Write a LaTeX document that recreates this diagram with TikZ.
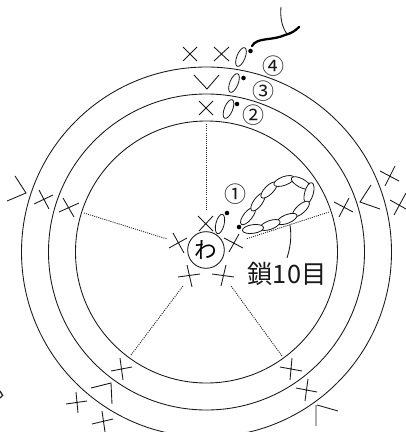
\documentclass[tikz,border=0pt]{standalone}
\usetikzlibrary{shapes.geometric}
\usepackage{fontspec}
\setmainfont{Noto Sans CJK JP}
\tikzset{
  ring/.style={draw=black!90,line width=0.65pt},
  spoke/.style={draw=black!85,line width=0.65pt,dash pattern=on 0.8pt off 0.8pt},
  stitch/.style={draw=black!90,line width=0.65pt},
  trloop/.style={draw=black!90,line width=0.6pt,ellipse,minimum width=6.2pt,minimum height=15pt,inner sep=0pt,rotate=-22},
  chainloop/.style={draw=black!90,line width=0.6pt,fill=white,ellipse,minimum width=16pt,minimum height=6.5pt,inner sep=0pt},
  dotmark/.style={fill=black,circle,inner sep=0pt,minimum size=3.4pt},
  lab/.style={inner sep=0pt,text=black!90},
  numlab/.style={lab,font=\fontsize{16.5pt}{17pt}\selectfont}
}
\begin{document}
\begin{tikzpicture}[x=0.75pt,y=-0.75pt]
\useasboundingbox (0,0) rectangle (406,432);
\begin{scope}
\clip (0,0) rectangle (406,432);
\coordinate (c) at (206.5,252);
\draw[ring] (c) circle[radius=185];
\draw[ring] (c) circle[radius=158];
\draw[ring] (c) circle[radius=131];
\end{scope}
% spokes
\coordinate (s1a) at (206,124); \coordinate (s1b) at (206,211);
\draw[spoke] (s1a) -- (s1b);
\coordinate (s2a) at (84,213); \coordinate (s2b) at (167,239);
\draw[spoke] (s2a) -- (s2b);
\coordinate (s3a) at (131,355); \coordinate (s3b) at (183,286);
\draw[spoke] (s3a) -- (s3b);
\coordinate (s4a) at (282,356); \coordinate (s4b) at (231,286);
\draw[spoke] (s4a) -- (s4b);
\coordinate (s5a) at (329,212); \coordinate (s5b) at (246,239);
\draw[spoke] (s5a) -- (s5b);
% ring centre
\node[draw=black!90,line width=0.65pt,circle,minimum size=27.5pt,inner sep=0pt,font=\fontsize{17pt}{17pt}\selectfont] (w) at (206,250) {わ};
% round 1 stitches around ring
\draw[stitch] (198,216)--(213,231) (213,216)--(199,231);
\draw[stitch] (173,233)--(184,253) (169,248)--(187,238);
\draw[stitch] (187,265)--(192,287) (178,277)--(200,274);
\draw[stitch] (226,265)--(221,286) (212,274)--(234,277);
\draw[stitch] (239,234)--(229,252) (224,238)--(243,248);
% chain
\foreach \n/\x/\y/\a in {1/248/216/51, 2/258/202/54, 3/269/190/45, 4/284/181/20, 5/301/183/-28, 6/309/193/75, 7/301/209/42, 8/287/219/22, 9/270/225/20, 10/253/229/8}{
  \node[chainloop,rotate=\a] (ch\n) at (\x,\y) {};
}
\coordinate (lead) at (290,225);
\coordinate (leadend) at (287,258);
\draw[stitch] (lead) .. controls (292,238) and (290,248) .. (leadend);
\node[lab,font=\fontsize{19pt}{20pt}\selectfont,anchor=center] (chainlabel) at (287,274) {鎖10目};
% first round tr + dot
\node[trloop,rotate=8] (o1) at (220,224) {};
\node[dotmark] (d1) at (227,213) {};
\node[dotmark] (d1b) at (239,227) {};
\node[numlab] (n1) at (235,194) {①};
% top
\draw[stitch] (199,101)--(213,115) (213,101)--(199,115);
\node[trloop] (o2) at (228.5,109) {};
\node[dotmark] (d2) at (237,104) {};
\node[numlab] (n2) at (253,115) {②};
\draw[stitch] (194,75)--(207,89)--(219,75);
\node[trloop] (o3) at (234,83) {};
\node[dotmark] (d3) at (243.5,78) {};
\node[numlab] (n3) at (263,91) {③};
\draw[stitch] (183,47)--(197,61) (197,47)--(183,61);
\draw[stitch] (214,47)--(229,61) (229,47)--(214,61);
\node[trloop] (o4) at (241,57) {};
\node[dotmark] (d4) at (250.5,51) {};
\node[numlab] (n4) at (273,66) {④};
\coordinate (yarn1) at (252,46); \coordinate (yarn2) at (299,27);
\draw[line width=1.7pt,line cap=round] (yarn1) .. controls (257,37) and (272,41) .. (285,35) .. controls (292,33) and (295,31) .. (yarn2);
\coordinate (y3) at (281,7); \coordinate (y4) at (287,34);
\draw[stitch] (y3) .. controls (280,18) and (282,27) .. (y4);
% left cluster
\draw[stitch] (15,176)--(26,193)--(7,201);
\draw[stitch] (39,190)--(49,209) (34,204)--(53,195);
\draw[stitch] (63,198)--(74,217) (59,212)--(79,203);
% right cluster
\draw[stitch] (334,202)--(353,212) (339,217)--(349,198);
\draw[stitch] (371,185)--(360,202)--(380,209);
\draw[stitch] (380,171)--(399,181) (395,166)--(385,186);
\draw[stitch] (390,200)--(406,209) (406,193)--(394,215);
% lower left
\draw[stitch] (120,358)--(123,380) (111,371)--(132,367);
\draw[stitch] (91,388)--(111,383)--(112,404);
\draw[stitch] (76,392)--(78,413) (66,404)--(87,401);
\draw[stitch] (102,411)--(105,432) (92,424)--(113,419);
% lower right
\draw[stitch] (292,358)--(290,380) (280,367)--(302,371);
\draw[stitch] (308,379)--(305,401) (296,388)--(317,392);
\draw[stitch] (316,405)--(316,426) (317,405)--(338,411);
% stray mark at left edge
\draw[line width=1pt,draw=black!85] (0,391)--(3,396) (0,398)--(2,396);
\end{tikzpicture}
\end{document}
